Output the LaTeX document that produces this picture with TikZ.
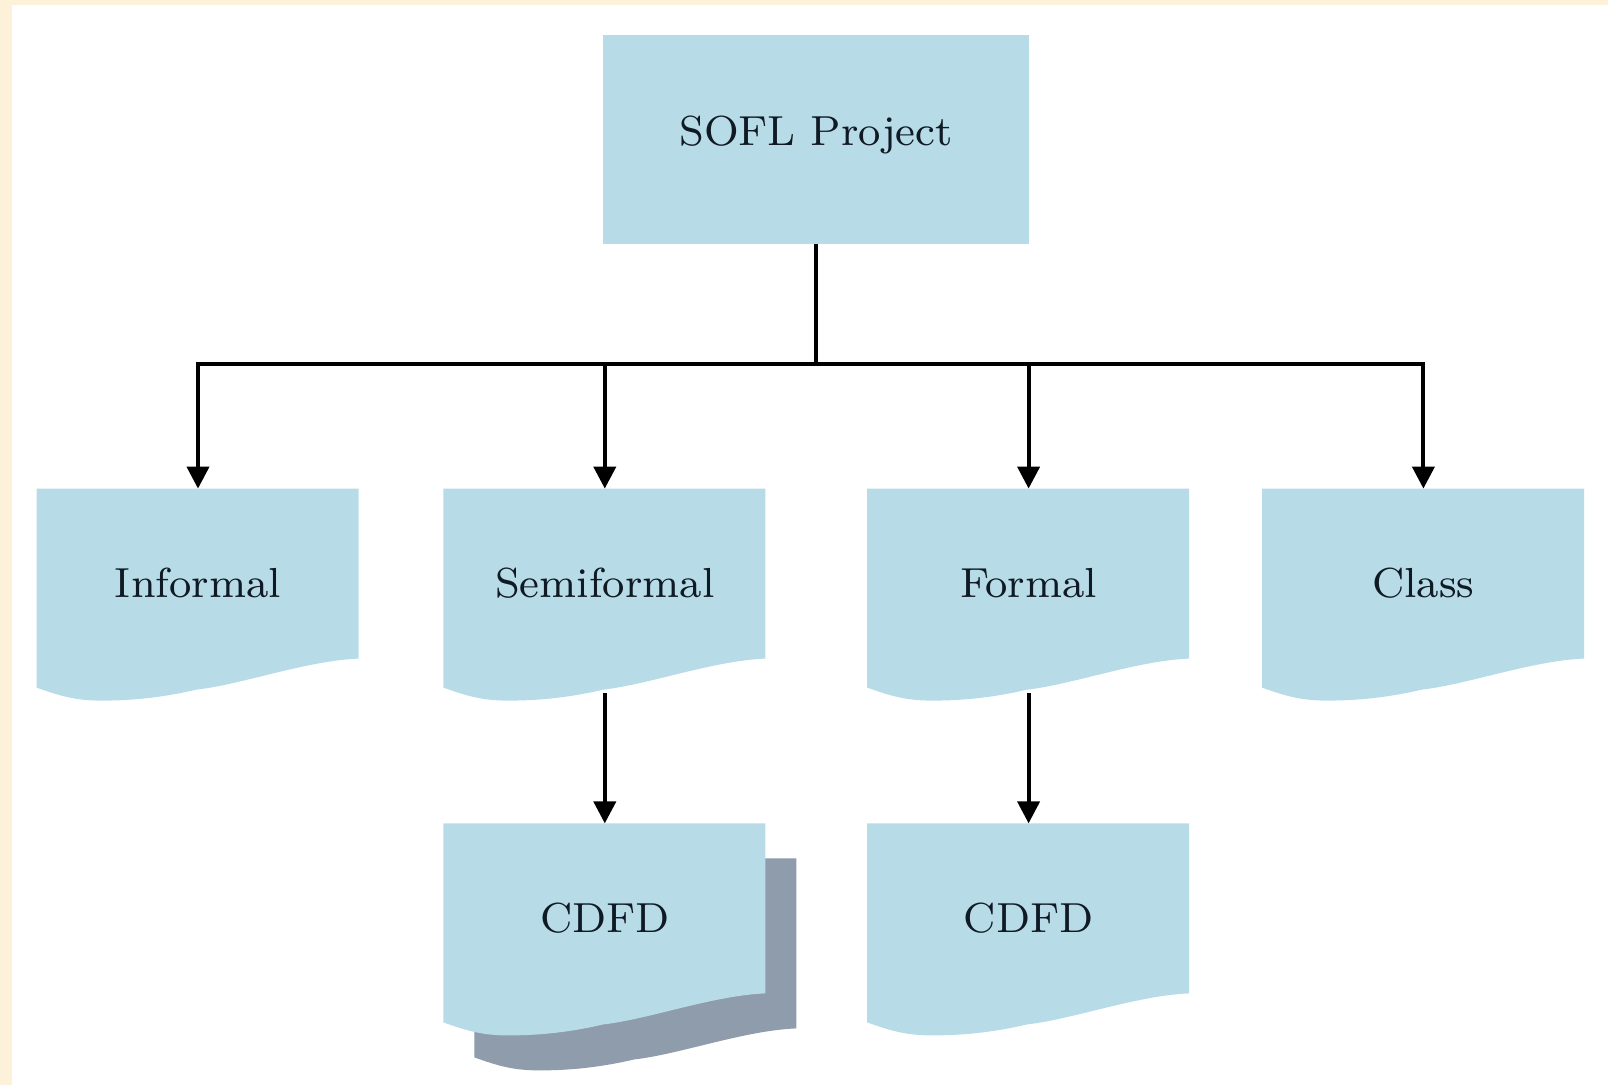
\documentclass[tikz,border=0pt]{standalone}
\usepackage{xcolor}
\usetikzlibrary{arrows.meta,positioning,backgrounds}

\definecolor{docblue}{RGB}{183,220,231}
\definecolor{docgray}{RGB}{142,156,171}
\definecolor{pagetint}{RGB}{253,241,218}
\definecolor{inkdark}{RGB}{16,26,36}

% outline of a document sheet, local units, y pointing down
\newcommand{\docwave}{(0,0) -- (322,0) -- (322,170) .. controls (270,172) and (205,196) .. (160,201) .. controls (130,208) and (100,212) .. (65,212) .. controls (40,212) and (25,208) .. (0,199) -- cycle}
% small optical size, blown up
\newcommand{\lbl}[1]{\scalebox{2.8}{\fontsize{7.5}{8}\selectfont #1}}

\begin{document}
\begin{tikzpicture}[
x=0.5pt,
y=-0.5pt,
every node/.style={
rectangle,
inner sep=0pt,
text depth=8.5pt,
text=inkdark
},
topbox/.style={fill=docblue, minimum width=213pt, minimum height=104.5pt},
docbox/.style={minimum width=161pt, minimum height=102pt},
edge/.style={-{Triangle[width=11pt,length=11pt]},line width=2pt},
link/.style={line width=2pt}
]
\node[topbox] (top) at (816,139.5) {\lbl{SOFL Project}};
\node[docbox] (inf) at (198,591) {\lbl{Informal}};
\node[docbox] (semi) [right=42pt of inf] {\lbl{Semiformal}};
\node[docbox] (formal) [right=50.5pt of semi] {\lbl{Formal}};
\node[docbox] (class) [right=36pt of formal] {\lbl{Class}};
\node[docbox] (cdfdA) [below=65pt of semi] {\lbl{CDFD}};
\node[docbox] (cdfdB) [below=65pt of formal] {\lbl{CDFD}};
\coordinate[below=60pt of top.south] (hub);

\draw[link] (top) -- (hub);
\foreach \n in {inf,semi,formal,class}
  \draw[edge] (hub) -| (\n.north);
\draw[edge] (semi) -- (cdfdA);
\draw[edge] (formal) -- (cdfdB);

\begin{pgfonlayer}{background}
\fill[pagetint] (0,0) rectangle (1608,1085);
\fill[white] (12,5) rectangle (1608,1085);
\fill[docgray, shift={(cdfdA.north west)}, shift={(31,35)}] \docwave;
\foreach \n in {inf,semi,formal,class,cdfdA,cdfdB}
  \fill[docblue, shift={(\n.north west)}] \docwave;
\end{pgfonlayer}
\end{tikzpicture}
\end{document}
